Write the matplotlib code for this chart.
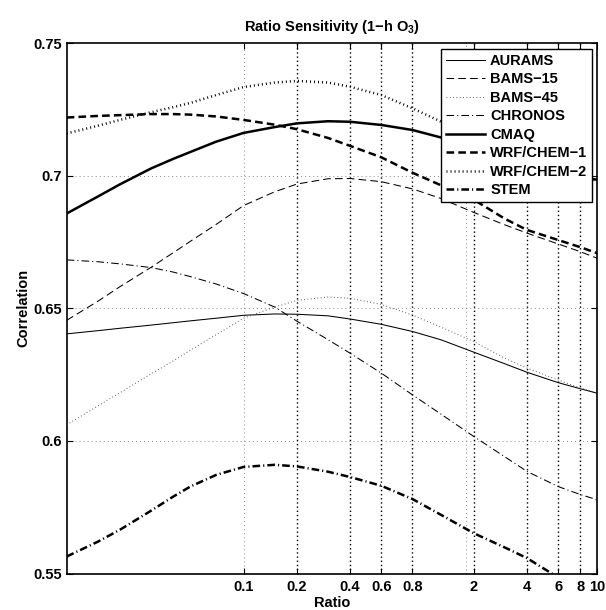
#!/usr/bin/env python3

"""Correlation versus emission ratio for each model (1-h ozone)."""

import matplotlib

matplotlib.use("Agg")

import matplotlib.pyplot as plt

plt.rcParams["font.family"] = ["Liberation Sans", "DejaVu Sans"]
plt.rcParams["font.weight"] = "bold"
plt.rcParams["mathtext.fontset"] = "custom"
plt.rcParams["mathtext.rm"] = "Liberation Sans:bold"
plt.rcParams["mathtext.bf"] = "Liberation Sans:bold"
plt.rcParams["mathtext.it"] = "Liberation Sans:bold"
plt.rcParams["lines.scale_dashes"] = False

ratio = [0.01, 0.015, 0.02, 0.03, 0.04, 0.05, 0.07, 0.1, 0.15, 0.2, 0.3, 0.4,
         0.6, 0.9, 1.3, 2, 3, 4, 6, 8, 10]

aurams = [0.6404, 0.6416, 0.6425, 0.6437, 0.6446, 0.6453, 0.6463, 0.6474, 0.6479, 0.6478,
          0.6472, 0.6460, 0.6440, 0.6413, 0.6382, 0.6335, 0.6291, 0.6259, 0.6220, 0.6197,
          0.6180]
bams_15 = [0.6455, 0.6527, 0.6582, 0.6655, 0.6710, 0.6753, 0.6817, 0.6888, 0.6940, 0.6969,
           0.6989, 0.6990, 0.6978, 0.6951, 0.6915, 0.6862, 0.6815, 0.6784, 0.6743, 0.6714,
           0.6689]
bams_45 = [0.6061, 0.6132, 0.6182, 0.6253, 0.6302, 0.6342, 0.6401, 0.6463, 0.6505, 0.6530,
           0.6543, 0.6538, 0.6515, 0.6475, 0.6430, 0.6375, 0.6312, 0.6275, 0.6230, 0.6200,
           0.6180]
chronos = [0.6683, 0.6676, 0.6668, 0.6654, 0.6637, 0.6620, 0.6592, 0.6556, 0.6505, 0.6452,
           0.6382, 0.6331, 0.6256, 0.6174, 0.6102, 0.6017, 0.5940, 0.5885, 0.5828, 0.5798,
           0.5778]
cmaq = [0.6858, 0.6922, 0.6968, 0.7028, 0.7064, 0.7090, 0.7129, 0.7162, 0.7184, 0.7198,
        0.7206, 0.7204, 0.7192, 0.7173, 0.7145, 0.7110, 0.7075, 0.7052, 0.7018, 0.6998,
        0.6985]
wrf_chem_1 = [0.7220, 0.7226, 0.7229, 0.7233, 0.7233, 0.7231, 0.7224, 0.7211, 0.7193, 0.7176,
              0.7143, 0.7113, 0.7070, 0.7012, 0.6965, 0.6910, 0.6838, 0.6796, 0.6758, 0.6731,
              0.6708]
wrf_chem_2 = [0.7160, 0.7189, 0.7211, 0.7240, 0.7259, 0.7275, 0.7305, 0.7335, 0.7352, 0.7358,
              0.7352, 0.7336, 0.7305, 0.7255, 0.7205, 0.7150, 0.7090, 0.7055, 0.7015, 0.6995,
              0.6982]
stem = [0.5564, 0.5620, 0.5665, 0.5737, 0.5790, 0.5828, 0.5872, 0.5902, 0.5910, 0.5904,
        0.5884, 0.5864, 0.5831, 0.5781, 0.5722, 0.5652, 0.5598, 0.5558, 0.5485, 0.5440,
        0.5405]

xtick_values = [0.1, 0.2, 0.4, 0.6, 0.9, 2, 4, 6, 8, 10]
xtick_labels = ["0.1", "0.2", "0.4", "0.6", "0.8", "2", "4", "6", "8", "10"]
ytick_values = [0.55, 0.6, 0.65, 0.7, 0.75]
ytick_labels = ["0.55", "0.6", "0.65", "0.7", "0.75"]

# two grid layers: the darker dotted set and a fainter one underneath
dark_grid_x = [0.2, 0.4, 0.6, 0.9, 2, 4, 6, 8]
light_grid_x = [0.1, 1.8]
grid_y = [0.6, 0.65, 0.7]

THIN = 0.75
THICK = 1.8
DASH = (0, (5.5, 3.0))
DOT_THIN = (0, (0.6, 1.8))
DOT_THICK = (0, (0.7, 2.2))
DASHDOT = (0, (5.5, 2.2, 0.8, 2.2))

series = [
    ("AURAMS", aurams, "-", THIN, "black"),
    ("BAMS\u221215", bams_15, DASH, THIN, "black"),
    ("BAMS\u221245", bams_45, DOT_THIN, THIN, "0.3"),
    ("CHRONOS", chronos, DASHDOT, THIN, "black"),
    ("CMAQ", cmaq, "-", THICK, "black"),
    ("WRF/CHEM\u22121", wrf_chem_1, DASH, THICK, "black"),
    ("WRF/CHEM\u22122", wrf_chem_2, DOT_THICK, THICK, "black"),
    ("STEM", stem, DASHDOT, THICK, "black"),
]

fig = plt.figure(figsize=(6.06, 6.10), dpi=100)
ax = fig.add_axes([66.7 / 606, 1 - 573.5 / 610, 530.7 / 606, 530.2 / 610])

for xg in light_grid_x:
    ax.axvline(xg, color="0.45", linewidth=0.6, linestyle=(0, (0.7, 2.2)), zorder=1)
for xg in dark_grid_x:
    ax.axvline(xg, color="black", linewidth=1.0, linestyle=(0, (1.0, 2.0)), zorder=1)
for yg in grid_y:
    ax.axhline(yg, color="0.45", linewidth=0.6, linestyle=(0, (0.7, 2.2)), zorder=1)

for name, values, style, width, color in series:
    ax.plot(ratio, values, linestyle=style, linewidth=width, color=color,
            label=name, zorder=3)

ax.set_xscale("log")
ax.set_xlim(0.01, 10)
ax.set_ylim(0.55, 0.75)
ax.set_xticks(xtick_values)
ax.set_xticklabels(xtick_labels)
ax.xaxis.set_minor_locator(matplotlib.ticker.NullLocator())
ax.set_yticks(ytick_values)
ax.set_yticklabels(ytick_labels)
ax.tick_params(direction="in", top=True, right=True, length=4, width=0.8,
               labelsize=10.5)
ax.tick_params(axis="x", pad=4.5)
ax.tick_params(axis="y", pad=3.5)
for spine in ax.spines.values():
    spine.set_linewidth(1.2)

ax.set_title("Ratio Sensitivity (1\u2212h O$_3$)", fontsize=10.5,
             fontweight="bold", pad=9)
ax.set_xlabel("Ratio", fontsize=10.5, fontweight="bold")
ax.set_ylabel("Correlation", fontsize=10.5, fontweight="bold")
ax.xaxis.set_label_coords(0.5, -0.043)
ax.yaxis.set_label_coords(-0.069, 0.5)

legend = ax.legend(loc="upper right", bbox_to_anchor=(0.9893, 0.9887),
                   borderaxespad=0, fontsize=10.5, frameon=True, fancybox=False,
                   handlelength=2.7, handletextpad=0.35, labelspacing=0.31,
                   borderpad=0.3)
legend.get_frame().set_edgecolor("black")
legend.get_frame().set_linewidth(1.0)
legend.get_frame().set_alpha(1.0)
legend.set_zorder(5)

fig.savefig("out.png", dpi=100)
plt.close(fig)
